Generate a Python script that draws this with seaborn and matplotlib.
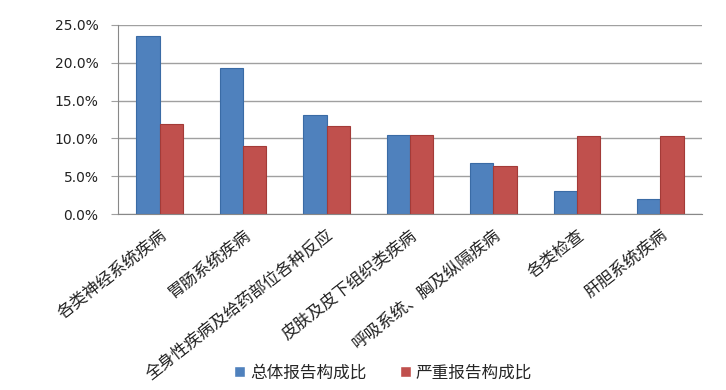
import numpy as np
import pandas as pd
import matplotlib
matplotlib.use('Agg')
import matplotlib.pyplot as plt
from matplotlib.ticker import PercentFormatter
import seaborn as sns

sns.set_style('white')
plt.rcParams['font.family'] = ['Noto Sans CJK SC', 'DejaVu Sans']

# data
categories = ['各类神经系统疾病', '胃肠系统疾病', '全身性疾病及给药部位各种反应',
              '皮肤及皮下组织类疾病', '呼吸系统、胸及纵隔疾病', '各类检查', '肝胆系统疾病']
total_share = [23.5, 19.3, 13.1, 10.4, 6.8, 3.0, 2.0]
serious_share = [11.9, 9.0, 11.6, 10.5, 6.4, 10.3, 10.3]
series_names = ['总体报告构成比', '严重报告构成比']
colors = ['#4F81BD', '#C0504D']
edges = ['#3A6BA5', '#A33B38']

df = pd.DataFrame({
    'cat': categories * 2,
    'val': total_share + serious_share,
    'series': [series_names[0]] * len(categories) + [series_names[1]] * len(categories),
})

fig = plt.figure(figsize=(7.26, 3.9), dpi=100)
ax = fig.add_axes([0.1625, 0.451, 0.8045, 0.485])

sns.barplot(data=df, x='cat', y='val', hue='series', palette=colors,
            width=0.56, saturation=1, ax=ax, legend=True)

# darker outline on bars
for cont, ec in zip(ax.containers, edges):
    for p in cont:
        p.set_edgecolor(ec)
        p.set_linewidth(0.8)

ax.set_ylim(0, 25)
ax.set_xlim(-0.5, len(categories) - 0.5)
ax.set_yticks(np.arange(0, 26, 5))
ax.yaxis.set_major_formatter(PercentFormatter(decimals=1))
ax.grid(axis='y', color='#A0A0A0', linewidth=1)
ax.set_axisbelow(True)

for s in ['top', 'right']:
    ax.spines[s].set_visible(False)
ax.spines['left'].set_color('#888888')
ax.spines['bottom'].set_color('#888888')

ax.set_xlabel('')
ax.set_ylabel('')
ax.set_xticks(range(len(categories)))
ax.set_xticklabels(categories, rotation=38, ha='right', rotation_mode='anchor',
                   fontsize=12, color='#222222')
ax.tick_params(axis='x', which='major', length=0, pad=9)
ax.set_xticks(np.arange(-0.5, len(categories), 1), minor=True)
ax.tick_params(axis='x', which='minor', length=5, color='#888888', direction='out')
ax.tick_params(axis='y', length=5, color='#A0A0A0', labelsize=10, labelcolor='#222222',
               direction='out', left=True, pad=9)
for t in ax.get_yticklabels():
    t.set_fontfamily('DejaVu Sans')

leg = ax.legend(loc='center', bbox_to_anchor=(0.454, -0.84), ncol=2, frameon=False,
                fontsize=12, handlelength=0.65, handleheight=0.65, columnspacing=2.0,
                handletextpad=0.3)

fig.savefig('out.png', dpi=100)
